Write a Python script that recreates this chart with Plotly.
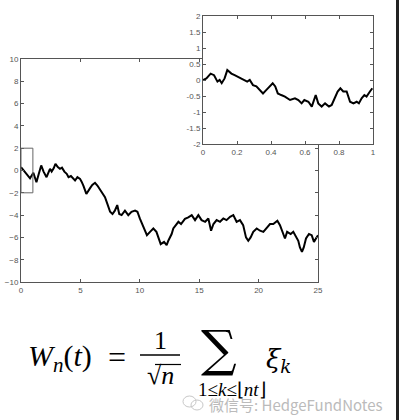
import plotly.graph_objects as go

# ---- data ----
main_t = [0, 0.25, 0.5, 0.76, 1.04, 1.3, 1.5, 1.7, 1.9, 2.15, 2.44, 2.58, 2.75, 2.9, 3.1,
          3.28, 3.45, 3.65, 3.85, 4.0, 4.2, 4.4, 4.55, 4.75, 4.97, 5.1, 5.25, 5.5, 5.65, 5.8,
          6.0, 6.23, 6.43, 6.6, 6.8, 7.07, 7.27, 7.5, 7.7, 7.9, 8.1, 8.27, 8.47, 8.75, 9.03,
          9.3, 9.6, 9.8, 10.0, 10.24, 10.44, 10.6, 10.86, 11.14, 11.4, 11.56, 11.76, 12.04,
          12.26, 12.4, 12.54, 12.68, 12.82, 13.0, 13.25, 13.47, 13.8, 14.08, 14.37, 14.65,
          14.93, 15.2, 15.5, 15.77, 16.0, 16.2, 16.47, 16.75, 17.03, 17.3, 17.6, 17.87, 18.15,
          18.43, 18.7, 18.94, 19.13, 19.33, 19.55, 19.84, 20.12, 20.4, 20.68, 20.96, 21.24,
          21.58, 21.8, 22.03, 22.22, 22.4, 22.7, 22.92, 23.15, 23.34, 23.48, 23.65, 23.8,
          23.99, 24.24, 24.47, 24.66, 24.9, 25.0]
main_w = [0.3, 0.0, -0.3, -0.7, -0.2, -1.05, -0.3, 0.45, -0.1, -0.6, 0.15, -0.1, 0.2, 0.6, 0.3,
          0.15, 0.25, -0.1, -0.3, -0.6, -0.5, -0.7, -0.9, -0.6, -0.75, -1.0, -1.35, -2.1, -1.8, -1.6,
          -1.3, -1.1, -1.35, -1.6, -1.94, -2.4, -3.0, -3.7, -3.9, -3.6, -3.1, -3.9, -4.0, -3.6, -4.0,
          -3.7, -3.6, -3.7, -4.3, -4.9, -5.5, -5.8, -5.5, -5.2, -5.5, -6.0, -6.6, -6.4,
          -6.7, -6.3, -6.0, -5.7, -5.2, -4.9, -4.6, -4.8, -4.33, -4.2, -4.0, -4.45,
          -4.0, -4.45, -4.6, -4.3, -5.4, -4.8, -4.45, -4.6, -4.3, -4.45, -4.15, -4.0, -4.6,
          -4.45, -4.9, -6.0, -6.3, -6.0, -5.5, -5.2, -5.4, -5.5, -5.1, -4.8, -4.8,
          -4.5, -4.9, -5.5, -6.1, -5.5, -5.7, -5.5, -6.0, -6.3, -6.9, -7.3, -6.9,
          -6.1, -5.7, -5.8, -6.4, -6.0, -5.8]

inset_t = [0, 0.02, 0.045, 0.065, 0.085, 0.098, 0.11, 0.127, 0.143, 0.167, 0.186, 0.206, 0.225,
           0.245, 0.26, 0.275, 0.294, 0.314, 0.333, 0.353, 0.373, 0.392, 0.41, 0.425, 0.44, 0.46,
           0.482, 0.512, 0.541, 0.561, 0.58, 0.596, 0.62, 0.64, 0.663, 0.678, 0.698, 0.718, 0.741,
           0.757, 0.776, 0.792, 0.808, 0.825, 0.845, 0.865, 0.885, 0.904, 0.917, 0.933, 0.949,
           0.962, 0.982, 0.996]
inset_w = [0.0, 0.05, 0.2, 0.15, -0.05, 0.0, -0.1, 0.05, 0.31, 0.2, 0.15, 0.1, 0.05,
           0.0, -0.05, 0.0, -0.16, -0.2, -0.31, -0.42, -0.31, -0.2, -0.1, -0.2, -0.42, -0.47,
           -0.52, -0.625, -0.57, -0.625, -0.73, -0.625, -0.68, -0.83, -0.47, -0.73, -0.83, -0.73, -0.83,
           -0.78, -0.57, -0.36, -0.26, -0.36, -0.36, -0.68, -0.73, -0.68, -0.73, -0.57, -0.47,
           -0.52, -0.36, -0.26]

main_xticks = [0, 5, 10, 15, 20, 25]
main_yticks = [-10, -8, -6, -4, -2, 0, 2, 4, 6, 8, 10]
inset_xticks = [0, 0.2, 0.4, 0.6, 0.8, 1]
inset_xlabels = ["0", "0.2", "0.4", "0.6", "0.8", "1"]
inset_yticks = [-2, -1.5, -1, -0.5, 0, 0.5, 1, 1.5, 2]
inset_ylabels = ["-2", "-1.5", "-1", "-0.5", "0", "0.5", "1", "1.5", "2"]
zoom_window = [0, 1, -2, 2]  # t0, t1, w0, w1

W, H = 400, 420
def px(x):
    return x / W
def py(y):
    return 1 - y / H

fig = go.Figure()
fig.add_trace(go.Scatter(x=main_t, y=main_w, mode="lines",
                         line=dict(color="black", width=2), xaxis="x", yaxis="y"))
fig.add_trace(go.Scatter(x=inset_t, y=inset_w, mode="lines",
                         line=dict(color="black", width=2), xaxis="x2", yaxis="y2"))

tickfont = dict(family="Liberation Sans, Arial", size=8, color="#555")
axcommon = dict(showgrid=False, zeroline=False, showline=True, linecolor="#555",
                linewidth=1, mirror="ticks", ticks="inside", ticklen=3, tickcolor="#555",
                tickfont=tickfont, automargin=False)

fig.update_layout(
    width=W, height=H, margin=dict(l=0, r=0, t=0, b=0, pad=0), autosize=False,
    paper_bgcolor="white", plot_bgcolor="white", showlegend=False, hovermode=False,
    xaxis=dict(domain=[px(21), px(318)], range=[0, 25], tickvals=main_xticks,
               anchor="y", **axcommon),
    yaxis=dict(domain=[py(282), py(59)], range=[-10, 10], tickvals=main_yticks,
               anchor="x", **axcommon),
    xaxis2=dict(domain=[px(203), px(373)], range=[0, 1], tickvals=inset_xticks,
                ticktext=inset_xlabels, anchor="y2", **axcommon),
    yaxis2=dict(domain=[py(144), py(16)], range=[-2, 2], tickvals=inset_yticks,
                ticktext=inset_ylabels, anchor="x2", **axcommon),
)

shapes = [
    dict(type="rect", xref="x", yref="y", x0=zoom_window[0], x1=zoom_window[1],
         y0=zoom_window[2], y1=zoom_window[3], line=dict(color="#666", width=1)),
    # fraction bar
    dict(type="line", xref="paper", yref="paper", x0=px(140), x1=px(180),
         y0=py(355), y1=py(355), line=dict(color="black", width=1.5)),
    # radical overbar
    dict(type="line", xref="paper", yref="paper", x0=px(155), x1=px(181),
         y0=py(364.5), y1=py(364.5), line=dict(color="black", width=1.2)),
    # right frame strip of picture
    dict(type="rect", xref="paper", yref="paper", x0=px(396), x1=px(399), y0=0, y1=1,
         fillcolor="#222", line=dict(width=0)),
    # watermark icon
    dict(type="circle", xref="paper", yref="paper", x0=px(183), x1=px(196),
         y0=py(407), y1=py(396), line=dict(color="#c8c8c8", width=1)),
    dict(type="circle", xref="paper", yref="paper", x0=px(191), x1=px(203),
         y0=py(410), y1=py(400), line=dict(color="#c8c8c8", width=1)),
]
fig.update_layout(shapes=shapes)

serif = "Liberation Serif, Times New Roman, serif"
ann = [
    dict(text="<i>W</i><sub><i>n</i></sub>(<i>t</i>)", x=px(26), y=py(358),
         xanchor="left", yanchor="middle", font=dict(family=serif, size=30, color="black")),
    dict(text="=", x=px(117), y=py(357), xanchor="center", yanchor="middle",
         font=dict(family=serif, size=32, color="black")),
    dict(text="1", x=px(160), y=py(340), xanchor="center", yanchor="middle",
         font=dict(family=serif, size=26, color="black")),
    dict(text="√<i>n</i>", x=px(160), y=py(375), xanchor="center", yanchor="middle",
         font=dict(family=serif, size=26, color="black")),
    dict(text="∑", x=px(219), y=py(349), xanchor="center", yanchor="middle",
         font=dict(family="DejaVu Serif", size=50, color="black")),
    dict(text="1≤<i>k</i>≤⌊<i>nt</i>⌋", x=px(232), y=py(389), xanchor="center",
         yanchor="middle", font=dict(family=serif, size=19, color="black")),
    dict(text="<i>ξ</i><sub><i>k</i></sub>", x=px(264), y=py(360), xanchor="left",
         yanchor="middle", font=dict(family="DejaVu Serif", size=26, color="black")),
    dict(text="微信号: HedgeFundNotes", x=px(207), y=py(404), xanchor="left",
         yanchor="middle", font=dict(family="Noto Sans CJK SC, Noto Sans", size=15, color="#bbbbbb")),
]
for a in ann:
    a.update(xref="paper", yref="paper", showarrow=False)
fig.update_layout(annotations=ann)

fig.write_html("out.html", config={"displayModeBar": False, "staticPlot": True})

# remove the default page margin so the figure sits at the window's top-left corner
with open("out.html", "r", encoding="utf-8") as f:
    html = f.read()
html = html.replace("<head>", "<head><style>html,body{margin:0;padding:0;overflow:hidden;}</style>", 1)
with open("out.html", "w", encoding="utf-8") as f:
    f.write(html)
